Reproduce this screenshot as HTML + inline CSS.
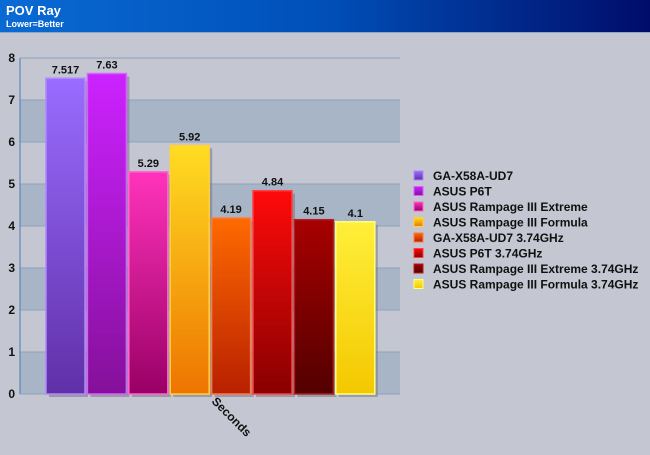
<!DOCTYPE html>
<html><head><meta charset="utf-8"><style>
body{margin:0;width:650px;height:450px;overflow:hidden;background:#c4c6d1;font-family:"Liberation Sans",sans-serif}
</style></head><body>
<svg width="650" height="450" id="svg">
<defs>
<linearGradient id="hdr" x1="0" x2="1"><stop offset="0" stop-color="#0a6ad4"/><stop offset="0.5" stop-color="#0050b8"/><stop offset="1" stop-color="#000c6a"/></linearGradient>
</defs>
<rect x="0" y="0" width="650" height="32" fill="url(#hdr)"/>
<rect x="0" y="32" width="650" height="1" fill="#8fa6c6"/>
<text x="6" y="15" font-size="13" font-weight="bold" fill="#fff">POV Ray</text>
<text x="6" y="27" font-size="9" font-weight="bold" fill="#fff">Lower=Better</text>
<g id="plot"></g>
<g id="legend"></g>
</svg>
<script>
const series=["GA-X58A-UD7","ASUS P6T","ASUS Rampage III Extreme","ASUS Rampage III Formula","GA-X58A-UD7 3.74GHz","ASUS P6T 3.74GHz","ASUS Rampage III Extreme 3.74GHz","ASUS Rampage III Formula 3.74GHz"];
const values=[7.517,7.63,5.29,5.92,4.19,4.84,4.15,4.1];
const labels=["7.517","7.63","5.29","5.92","4.19","4.84","4.15","4.1"];
const ticks=[0,1,2,3,4,5,6,7,8];
const colTop=["#9a6cff","#cc22ff","#ff33bb","#ffdd22","#ff6a00","#ff0a0a","#a80000","#ffef3a"];
const colBot=["#6030a8","#85109a","#990066","#ee7400","#b82000","#880000","#520000","#f4c800"];
const colEdge=["#b088ff","#d860ff","#ff66cc","#ffd040","#ff7a40","#ff4040","#b02020","#ffff80"];
const NS="http://www.w3.org/2000/svg";
const svg=document.getElementById('svg'),plot=document.getElementById('plot'),leg=document.getElementById('legend');
const x0=20,x1=400,y0=394,y1=58,vmax=8;
const y=v=>y0-(v/vmax)*(y0-y1);
const bx=i=>46+i*41.4;
function el(t,a,p){const e=document.createElementNS(NS,t);for(const k in a)e.setAttribute(k,a[k]);(p||plot).appendChild(e);return e;}
const defs=svg.querySelector('defs');
colTop.forEach((c,i)=>{const g=el('linearGradient',{id:'g'+i,x1:0,x2:0,y1:0,y2:1},defs);el('stop',{offset:0,'stop-color':c},g);el('stop',{offset:1,'stop-color':colBot[i]},g);});
ticks.forEach((t,i)=>{
  if(i<ticks.length-1&&i%2===0){const b=el('rect',{x:x0,y:y(t+1),width:x1-x0,height:y(t)-y(t+1),fill:'#a8b5c7'});
  
  }
  const l=el('line',{x1:x0,x2:x1,y1:y(t),y2:y(t),stroke:'#8ea3bd','stroke-width':1});
  
  
  const tx=el('text',{x:15,y:y(t)+4,'font-size':12,'font-weight':'bold','text-anchor':'end',fill:'#111'});tx.textContent=t;
  
  
});
const ax=el('line',{x1:x0,x2:x0,y1:y1,y2:y0,stroke:'#4a7cb8'});


values.forEach((v,i)=>{
  el('rect',{x:bx(i)+3,y:y(v)+3,width:39,height:y0-y(v),fill:'#6d7080',opacity:0.5});
  const r=el('rect',{x:bx(i),y:y(v),width:39,height:y0-y(v),fill:'url(#g'+i+')',stroke:colEdge[i],'stroke-width':1.5});
  
  
  const t=el('text',{x:bx(i)+19.5,y:y(v)-5,'font-size':11,'font-weight':'bold','text-anchor':'middle',fill:'#111'});t.textContent=labels[i];
  
  
});
const xl=el('text',{x:0,y:0,'font-size':12,'font-weight':'bold',fill:'#111',transform:'translate(211,402) rotate(45)'});xl.textContent='Seconds';


series.forEach((s,i)=>{
  const yy=171+i*15.5;
  const g=el('g',{},leg);
  
  
  el('rect',{x:414,y:yy,width:9,height:9,fill:'url(#g'+i+')',stroke:colEdge[i]},g);
  const t=el('text',{x:433,y:yy+9,'font-size':12,'font-weight':'bold',fill:'#111'},g);t.textContent=s;
});
</script>
</body></html>
